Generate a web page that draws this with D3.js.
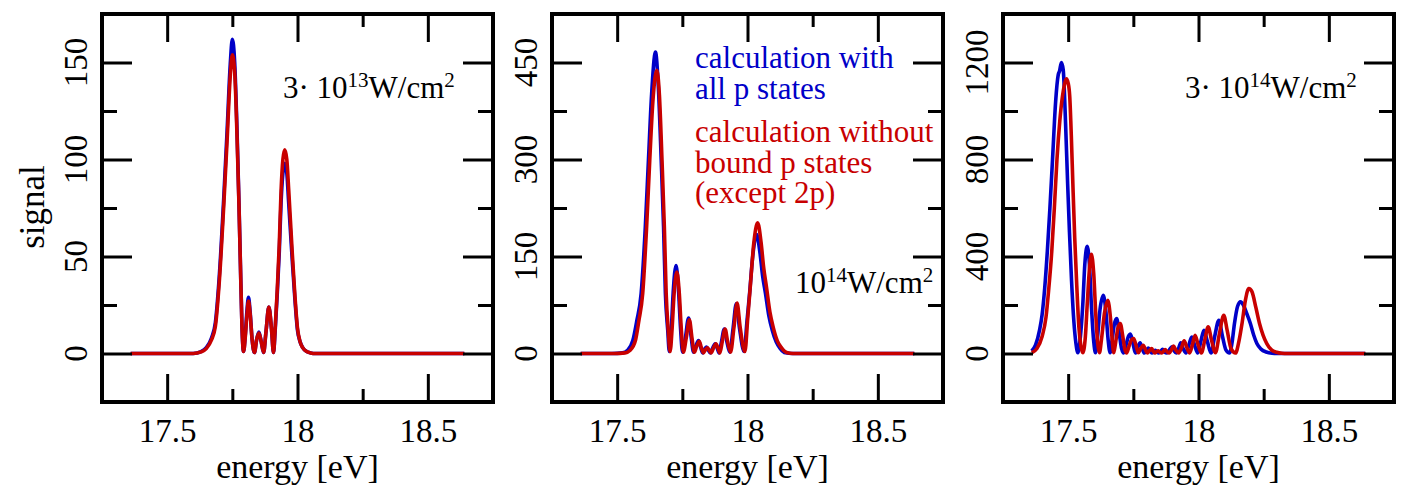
<!DOCTYPE html>
<html><head><meta charset="utf-8">
<script src="https://cdn.jsdelivr.net/npm/d3@7"></script>
<style>
body{margin:0;background:#fff}
svg{display:block}
text{font-family:"Liberation Serif","Times New Roman",Times,serif;fill:#000}
</style>
</head><body>
<svg id="chart" width="1405" height="488"></svg>
<script>
// ---------------- data ----------------
const xTicks = [17.5, 18, 18.5];
const xMinorTicks = [17.75, 18.25];
const xTickLabels = ["17.5", "18", "18.5"];

const yTicks1 = [0, 50, 100, 150], yMinor1 = [25, 75, 125];
const yTicks2 = [0, 150, 300, 450], yMinor2 = [75, 225, 375];
const yTicks3 = [0, 400, 800, 1200], yMinor3 = [200, 600, 1000];

// panel 1 : 3·10^13 W/cm^2 (shared energy grid)
const energy1 = [17.36,17.60,17.63,17.65,17.67,17.685,17.70,17.717,17.73,17.742,17.75,17.759,17.768,17.775,17.781,17.787,17.793,17.80,17.806,17.812,17.818,17.826,17.835,17.843,17.852,17.861,17.87,17.879,17.89,17.90,17.908,17.914,17.922,17.930,17.937,17.944,17.951,17.959,17.966,17.979,17.99,18.0,18.01,18.02,18.035,18.05,18.07,18.64];
const blue1 = [0,0,1,3,8,16,40,80,115,149,162,150,115,80,46,14,1,10,22,29,22,7,0.5,7,11,6,0.5,11,24,13,0.5,11,30,52,78,93,98,93,78,50,28,12,6,3,1,0.3,0,0];
const red1  = [0,0,0.8,2.5,7,14,37,76,110,143,154,145,112,79,46,14,1,9,20,27,21,7,0.5,7,10.5,6,0.5,11,24,13,0.5,12,32,56,84,100,105,100,85,54,30,13,6,3,1,0.3,0,0];

// panel 2 : 10^14 W/cm^2
const energy2Blue = [17.36,17.48,17.52,17.54,17.56,17.575,17.592,17.608,17.620,17.632,17.647,17.657,17.669,17.678,17.685,17.694,17.700,17.708,17.715,17.726,17.735,17.743,17.751,17.762,17.774,17.784,17.793,17.802,17.812,17.82,17.828,17.836,17.843,17.85,17.857,17.866,17.876,17.884,17.891,17.90,17.911,17.921,17.932,17.945,17.957,17.969,17.987,17.998,18.008,18.02,18.035,18.048,18.058,18.069,18.082,18.095,18.11,18.125,18.146,18.17,18.64];
const blue2 = [0,0,1,5,20,50,93,196,299,400,466,420,299,196,93,36,3,40,95,136,100,40,2,25,55,25,2,12,20,10,1,7,10,5,1,8,15,8,1,18,38,18,2,40,77,40,3,50,93,150,184,155,120,93,58,36,18,8,1,0,0];
const energy2Red = [17.36,17.49,17.53,17.55,17.57,17.583,17.598,17.613,17.625,17.637,17.652,17.662,17.672,17.681,17.688,17.696,17.703,17.711,17.718,17.729,17.738,17.746,17.754,17.765,17.777,17.787,17.796,17.805,17.815,17.823,17.831,17.839,17.846,17.853,17.86,17.869,17.879,17.887,17.894,17.903,17.914,17.924,17.935,17.948,17.96,17.972,17.99,18.001,18.011,18.024,18.039,18.052,18.062,18.073,18.086,18.099,18.114,18.13,18.15,18.175,18.64];
const red2 = [0,0,1,5,20,50,93,196,299,390,438,400,299,196,93,36,3,40,90,126,95,38,2,24,52,24,2,11,19,9,1,6,9,5,1,8,15,8,1,18,38,18,2,40,78,40,3,55,105,170,202,172,133,102,64,40,20,9,1.5,0,0];

// panel 3 : 3·10^14 W/cm^2
const energy3Blue = [17.36,17.375,17.39,17.40,17.41,17.42,17.43,17.44,17.452,17.462,17.467,17.474,17.481,17.490,17.498,17.505,17.513,17.522,17.530,17.537,17.547,17.556,17.564,17.573,17.582,17.590,17.598,17.605,17.612,17.622,17.635,17.645,17.653,17.661,17.668,17.677,17.686,17.695,17.705,17.713,17.722,17.731,17.739,17.748,17.758,17.767,17.776,17.785,17.792,17.800,17.808,17.815,17.821,17.828,17.835,17.841,17.848,17.855,17.862,17.870,17.879,17.889,17.898,17.906,17.915,17.924,17.932,17.941,17.952,17.963,17.974,17.985,17.997,18.009,18.021,18.034,18.048,18.062,18.078,18.092,18.105,18.119,18.128,18.138,18.150,18.161,18.172,18.185,18.199,18.212,18.224,18.240,18.260,18.282,18.30,18.64];
const blue3 = [10,35,95,160,270,420,600,800,1040,1150,1165,1200,1170,950,700,500,300,130,40,3,70,200,370,442,360,180,50,3,60,180,240,170,60,3,50,120,144,90,20,2,35,70,80,45,2,25,44,18,2,14,22,10,2,9,13,6,2,9,17,6,2,16,28,12,2,22,44,20,2,35,68,35,2,50,96,50,2,70,137,70,15,2,40,124,195,213,200,165,124,75,41,18,6,1,0,0];
const energy3Red = [17.36,17.38,17.40,17.415,17.425,17.437,17.447,17.457,17.468,17.478,17.486,17.493,17.500,17.506,17.512,17.518,17.525,17.533,17.541,17.549,17.556,17.566,17.573,17.581,17.589,17.598,17.606,17.613,17.620,17.628,17.639,17.652,17.662,17.669,17.675,17.682,17.691,17.700,17.709,17.718,17.724,17.733,17.742,17.751,17.760,17.769,17.778,17.788,17.797,17.804,17.812,17.820,17.827,17.833,17.839,17.845,17.852,17.859,17.866,17.872,17.880,17.888,17.896,17.904,17.913,17.924,17.935,17.945,17.955,17.966,17.977,17.987,17.998,18.011,18.024,18.037,18.05,18.065,18.08,18.097,18.11,18.125,18.142,18.155,18.167,18.18,18.193,18.205,18.22,18.234,18.248,18.262,18.28,18.30,18.32,18.34,18.64];
const red3 = [3,20,70,150,260,420,600,800,960,1060,1110,1133,1115,1060,900,700,480,280,110,30,3,70,200,340,409,330,160,45,3,60,165,219,150,55,3,45,105,124,75,15,2,28,55,62,35,3,20,34,14,2,12,20,9,2,7,11,5,2,9,16,7,2,15,31,14,2,25,52,25,2,38,75,38,2,55,110,55,3,80,158,95,20,2,50,124,220,268,255,190,124,75,41,15,5,1,0,0];

const blueColor = "#0000c8", redColor = "#c80000";

// ---------------- layout ----------------
const svg = d3.select("#chart");
const plotTop = 14, plotBottom = 402;
const panels = [
  {left: 102, right: 493, yDomain: [-25, 175], yTicks: yTicks1, yMinor: yMinor1,
   series: [{e: energy1, v: blue1, c: blueColor}, {e: energy1, v: red1, c: redColor}]},
  {left: 552, right: 943, yDomain: [-75, 525], yTicks: yTicks2, yMinor: yMinor2,
   series: [{e: energy2Blue, v: blue2, c: blueColor}, {e: energy2Red, v: red2, c: redColor}]},
  {left: 1003, right: 1394, yDomain: [-200, 1400], yTicks: yTicks3, yMinor: yMinor3,
   series: [{e: energy3Blue, v: blue3, c: blueColor}, {e: energy3Red, v: red3, c: redColor}]}
];

panels.forEach((p, i) => {
  const x = d3.scaleLinear().domain([17.25, 18.75]).range([p.left, p.right]);
  const y = d3.scaleLinear().domain(p.yDomain).range([plotBottom, plotTop]);
  const g = svg.append("g");

  // curves
  const line = d3.line().x(d => x(d[0])).y(d => y(d[1])).curve(d3.curveMonotoneX);
  p.series.forEach(s => {
    g.append("path").datum(s.e.map((e, k) => [e, s.v[k]]))
      .attr("d", line).attr("fill", "none").attr("stroke", s.c)
      .attr("stroke-width", 3.6).attr("stroke-linejoin", "round");
  });

  const styleAxis = sel => { sel.select(".domain").remove(); sel.selectAll("line").attr("stroke", "#000").attr("stroke-width", 3); };

  // x ticks (bottom & top, inward)
  g.append("g").attr("transform", `translate(0,${plotBottom})`)
    .call(d3.axisBottom(x).tickValues(xTicks).tickSize(-28).tickPadding(17).tickFormat((d, k) => xTickLabels[k]))
    .call(styleAxis)
    .selectAll("text").attr("font-size", 33).attr("fill", "#000");
  g.append("g").attr("transform", `translate(0,${plotBottom})`)
    .call(d3.axisBottom(x).tickValues(xMinorTicks).tickSize(-13).tickFormat(""))
    .call(styleAxis);
  g.append("g").attr("transform", `translate(0,${plotTop})`)
    .call(d3.axisTop(x).tickValues(xTicks).tickSize(-28).tickFormat(""))
    .call(styleAxis);
  g.append("g").attr("transform", `translate(0,${plotTop})`)
    .call(d3.axisTop(x).tickValues(xMinorTicks).tickSize(-13).tickFormat(""))
    .call(styleAxis);

  // y ticks (left & right, inward)
  g.append("g").attr("transform", `translate(${p.left},0)`)
    .call(d3.axisLeft(y).tickValues(p.yTicks).tickSize(-30).tickFormat(""))
    .call(styleAxis);
  g.append("g").attr("transform", `translate(${p.left},0)`)
    .call(d3.axisLeft(y).tickValues(p.yMinor).tickSize(-15).tickFormat(""))
    .call(styleAxis);
  g.append("g").attr("transform", `translate(${p.right},0)`)
    .call(d3.axisRight(y).tickValues(p.yTicks).tickSize(-30).tickFormat(""))
    .call(styleAxis);
  g.append("g").attr("transform", `translate(${p.right},0)`)
    .call(d3.axisRight(y).tickValues(p.yMinor).tickSize(-15).tickFormat(""))
    .call(styleAxis);

  // y tick labels, rotated
  g.selectAll(".ylab").data(p.yTicks).enter().append("text")
    .attr("transform", d => `translate(${p.left - 15},${y(d)}) rotate(-90)`)
    .attr("text-anchor", "middle").attr("font-size", 33).text(d => d);

  // frame
  g.append("rect").attr("x", p.left).attr("y", plotTop)
    .attr("width", p.right - p.left).attr("height", plotBottom - plotTop)
    .attr("fill", "none").attr("stroke", "#000").attr("stroke-width", 4);

  // x axis label
  g.append("text").attr("x", (p.left + p.right) / 2).attr("y", 478)
    .attr("text-anchor", "middle").attr("font-size", 34).text("energy [eV]");
});

// y axis label
svg.append("text").attr("transform", "translate(44,207) rotate(-90)")
  .attr("text-anchor", "middle").attr("font-size", 35).text("signal");

// intensity annotations
function intensity(px, py, pre, exp) {
  const t = svg.append("text").attr("x", px).attr("y", py).attr("font-size", 31);
  t.append("tspan").text(pre + "10");
  t.append("tspan").attr("font-size", 21).attr("dy", -11).text(exp);
  t.append("tspan").attr("dy", 11).text("W/cm");
  t.append("tspan").attr("font-size", 21).attr("dy", -11).text("2");
}
intensity(283, 98, "3· ", "13");
intensity(795, 293, "", "14");
intensity(1185, 98, "3· ", "14");

// legend texts (one text block per series, lines as tspans)
const legendBlue = ["calculation with", "all p states"];
const legendRed = ["calculation without", "bound p states", "(except 2p)"];
function legendBlock(lines, y0, color) {
  const t = svg.append("text").attr("x", 695).attr("y", y0)
    .attr("font-size", 31).style("fill", color);
  lines.forEach((s, k) => t.append("tspan").attr("x", 695).attr("dy", k === 0 ? 0 : 30.5).text(s));
}
legendBlock(legendBlue, 68, blueColor);
legendBlock(legendRed, 142, redColor);
</script>
</body></html>
